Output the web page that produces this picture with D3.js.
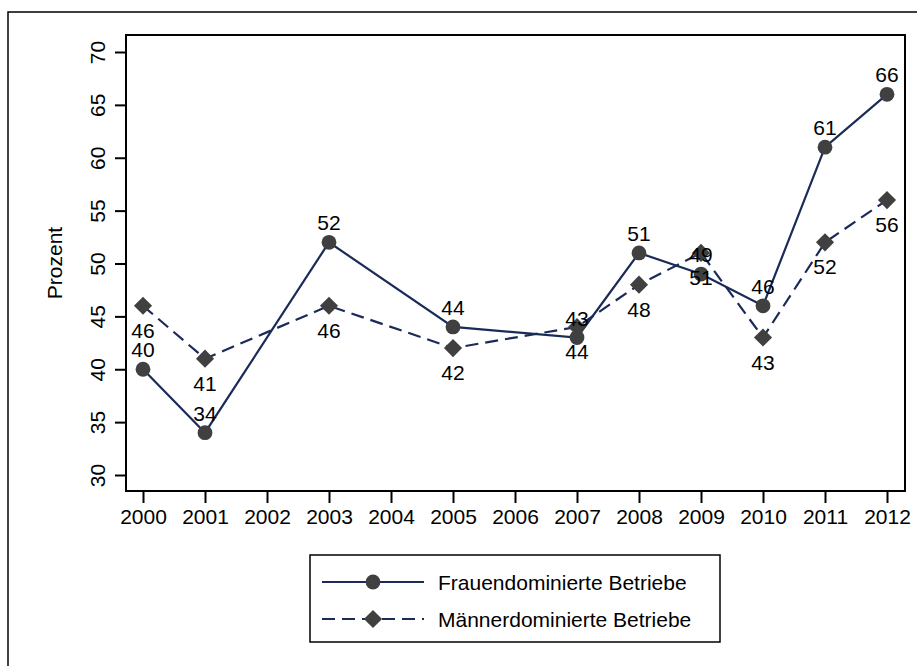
<!DOCTYPE html>
<html><head><meta charset="utf-8">
<script src="https://cdn.jsdelivr.net/npm/d3@7"></script>
<style>body{margin:0;background:#fff}svg{display:block}text{font-family:"Liberation Sans",Arial,sans-serif}</style>
</head><body>
<script>
const years = [2000,2001,2003,2005,2007,2008,2009,2010,2011,2012];
const frauen = [40,34,52,44,43,51,49,46,61,66];
const maenner = [46,41,46,42,44,48,51,43,52,56];
const xTicks = [2000,2001,2002,2003,2004,2005,2006,2007,2008,2009,2010,2011,2012];
const yTicks = [30,35,40,45,50,55,60,65,70];
const seriesNames = ["Frauendominierte Betriebe","Männerdominierte Betriebe"];
const yTitle = "Prozent";

const W=917,H=666;
const svg=d3.select("body").append("svg").attr("width",W).attr("height",H);
const FS=21;
const lineCol="#1b2b58", markCol="#404040";
svg.append("rect").attr("x",8).attr("y",12).attr("width",W).attr("height",H).attr("fill","none").attr("stroke","#000").attr("stroke-width",1.5);

const plot={l:126,t:35,r:905,b:491};
const x=d3.scaleLinear().domain([2000,2012]).range([143,887]);
const y=d3.scaleLinear().domain([30,70]).range([475,52]);

svg.append("rect").attr("x",plot.l).attr("y",plot.t).attr("width",plot.r-plot.l).attr("height",plot.b-plot.t)
  .attr("fill","none").attr("stroke","#000").attr("stroke-width",2);

const gx=svg.append("g").attr("transform",`translate(0,${plot.b})`)
  .call(d3.axisBottom(x).tickValues(xTicks).tickFormat(d3.format("d")).tickSize(12).tickSizeOuter(0).tickPadding(6));
gx.select(".domain").remove();
gx.selectAll("line").attr("stroke","#000").attr("stroke-width",2);
gx.selectAll("text").attr("font-size",FS).attr("fill","#000").attr("font-family","Liberation Sans, Arial, sans-serif");

const gy=svg.append("g").attr("transform",`translate(${plot.l},0)`)
  .call(d3.axisLeft(y).tickValues(yTicks).tickSize(11).tickSizeOuter(0).tickPadding(0));
gy.select(".domain").remove();
gy.selectAll("line").attr("stroke","#000").attr("stroke-width",2);
gy.selectAll(".tick text").attr("font-size",FS).attr("fill","#000").attr("font-family","Liberation Sans, Arial, sans-serif")
  .attr("text-anchor","middle").attr("x",0).attr("y",0).attr("dy",0)
  .attr("transform","translate(-21,0) rotate(-90)");

svg.append("text").attr("transform",`translate(62,${(plot.t+plot.b)/2}) rotate(-90)`).attr("text-anchor","middle")
  .attr("font-size",FS).text(yTitle);

const data=[frauen,maenner].map((vals,i)=>years.map((yr,j)=>({x:yr,y:vals[j],s:i})));
const line=d3.line().x(d=>x(d.x)).y(d=>y(d.y));
data.forEach((ser,i)=>{
  svg.append("path").datum(ser).attr("d",line).attr("fill","none").attr("stroke",lineCol).attr("stroke-width",2.2)
    .attr("stroke-dasharray",i===1?"13,7":null);
});
const diamond=d3.symbol().type(d3.symbolDiamond2).size(210);
svg.append("g").selectAll("circle").data(data[0]).join("circle").attr("cx",d=>x(d.x)).attr("cy",d=>y(d.y)).attr("r",7.4).attr("fill",markCol);
svg.append("g").selectAll("path").data(data[1]).join("path").attr("d",diamond).attr("transform",d=>`translate(${x(d.x)},${y(d.y)})`).attr("fill",markCol);
svg.append("g").selectAll("text").data(data[0]).join("text").attr("x",d=>x(d.x)).attr("y",d=>y(d.y)-12)
  .attr("text-anchor","middle").attr("font-size",FS).text(d=>d.y);
svg.append("g").selectAll("text").data(data[1]).join("text").attr("x",d=>x(d.x)).attr("y",d=>y(d.y)+32)
  .attr("text-anchor","middle").attr("font-size",FS).text(d=>d.y);

const lg=svg.append("g");
lg.append("rect").attr("x",310).attr("y",555).attr("width",410).attr("height",87).attr("fill","#fff").attr("stroke","#000").attr("stroke-width",1.5);
const rows=[582,619];
seriesNames.forEach((n,i)=>{
  lg.append("line").attr("x1",322).attr("x2",424).attr("y1",rows[i]).attr("y2",rows[i]).attr("stroke",lineCol).attr("stroke-width",2.2)
    .attr("stroke-dasharray",i===1?"13,7":null);
  if(i===0) lg.append("circle").attr("cx",373).attr("cy",rows[i]).attr("r",7.4).attr("fill",markCol);
  else lg.append("path").attr("d",diamond).attr("transform",`translate(373,${rows[i]})`).attr("fill",markCol);
  lg.append("text").attr("x",438).attr("y",rows[i]).attr("dy","0.36em").attr("font-size",FS).text(n);
});
</script>
</body></html>
